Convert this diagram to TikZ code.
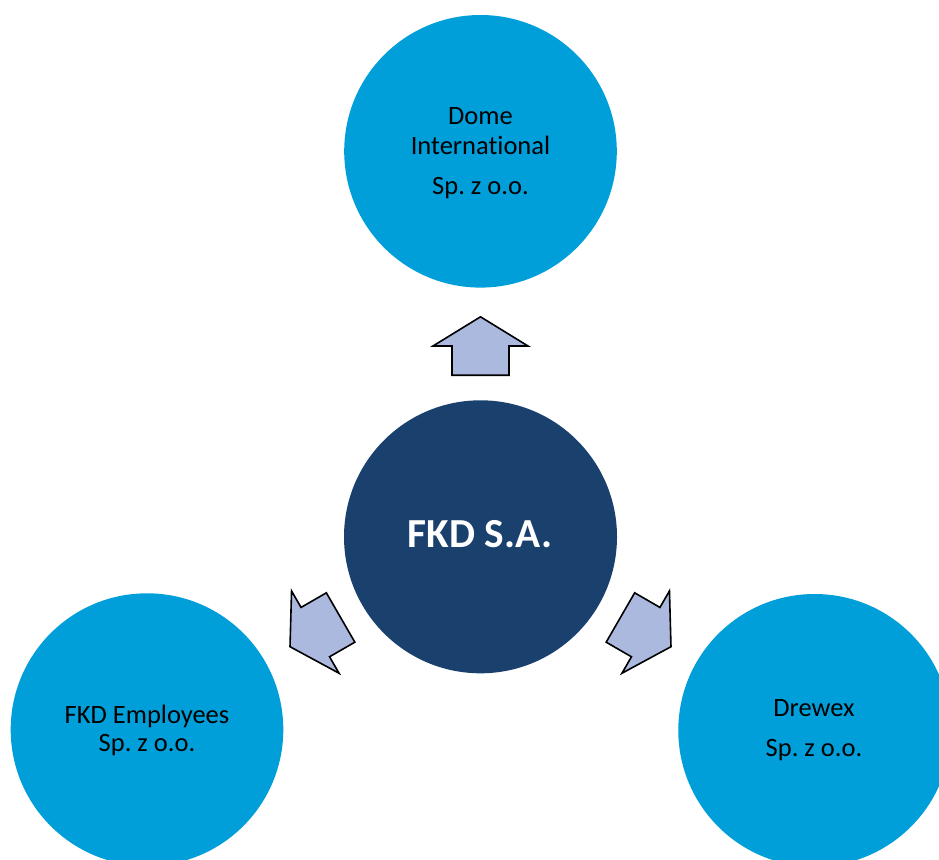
\documentclass[tikz,border=0pt]{standalone}
\usepackage{fontspec}
\setmainfont{Carlito}[Ligatures=NoCommon]
\frenchspacing
\definecolor{lightblue}{RGB}{0,159,218}
\definecolor{darkblue}{RGB}{26,64,110}
\definecolor{arrowfill}{RGB}{171,185,222}
\tikzset{
  unit/.style={circle, fill=lightblue, minimum size=272.6pt, inner sep=0pt},
  core/.style={circle, fill=darkblue, minimum size=273pt, inner sep=0pt},
  txt/.style={anchor=base, inner sep=0pt, font=\fontsize{26.5}{30}\selectfont, text=black},
  blockarrow/.style={draw=black, line width=1.6pt, fill=arrowfill, line join=miter},
}
\newcommand{\blockarrowpath}{(0,-29.2) -- (47.5,0) -- (28.5,0) -- (28.5,29.2) -- (-28.5,29.2) -- (-28.5,0) -- (-47.5,0) -- cycle}
\begin{document}
\begin{tikzpicture}[x=1pt,y=-1pt]
\useasboundingbox (0,0) rectangle (939,859);
% circles
\node[unit] (dome) at (480.5,151.3) {};
\node[core] (fkd) at (480.5,536.8) {};
\node[unit] (empl) at (147,729.6) {};
\node[unit] (drewex) at (814.6,730.3) {};
% texts
\node[txt] (t1) at (480.5,124) {Dome};
\node[txt] (t2) at (480.5,154) {International};
\node[txt] (t3) at (480.5,194) {Sp. z o.o.};
\node[anchor=base, inner sep=0pt, font=\fontsize{41.3}{46}\selectfont\bfseries, text=white] (t4) at (480,547.3) {FKD S.A.};
\node[txt] (t5) at (147,723.3) {FKD Employees};
\node[txt] (t6) at (147,751.7) {Sp. z o.o.};
\node[txt] (t7) at (814,716.7) {Drewex};
\node[txt] (t8) at (814,756.7) {Sp. z o.o.};
% block arrows
\begin{scope}[shift={(480.5,346)}]
  \draw[blockarrow] \blockarrowpath;
\end{scope}
\begin{scope}[shift={(315.3,632.1)}, rotate=120]
  \draw[blockarrow] \blockarrowpath;
\end{scope}
\begin{scope}[shift={(645.7,632.1)}, rotate=-120]
  \draw[blockarrow] \blockarrowpath;
\end{scope}
\end{tikzpicture}
\end{document}
